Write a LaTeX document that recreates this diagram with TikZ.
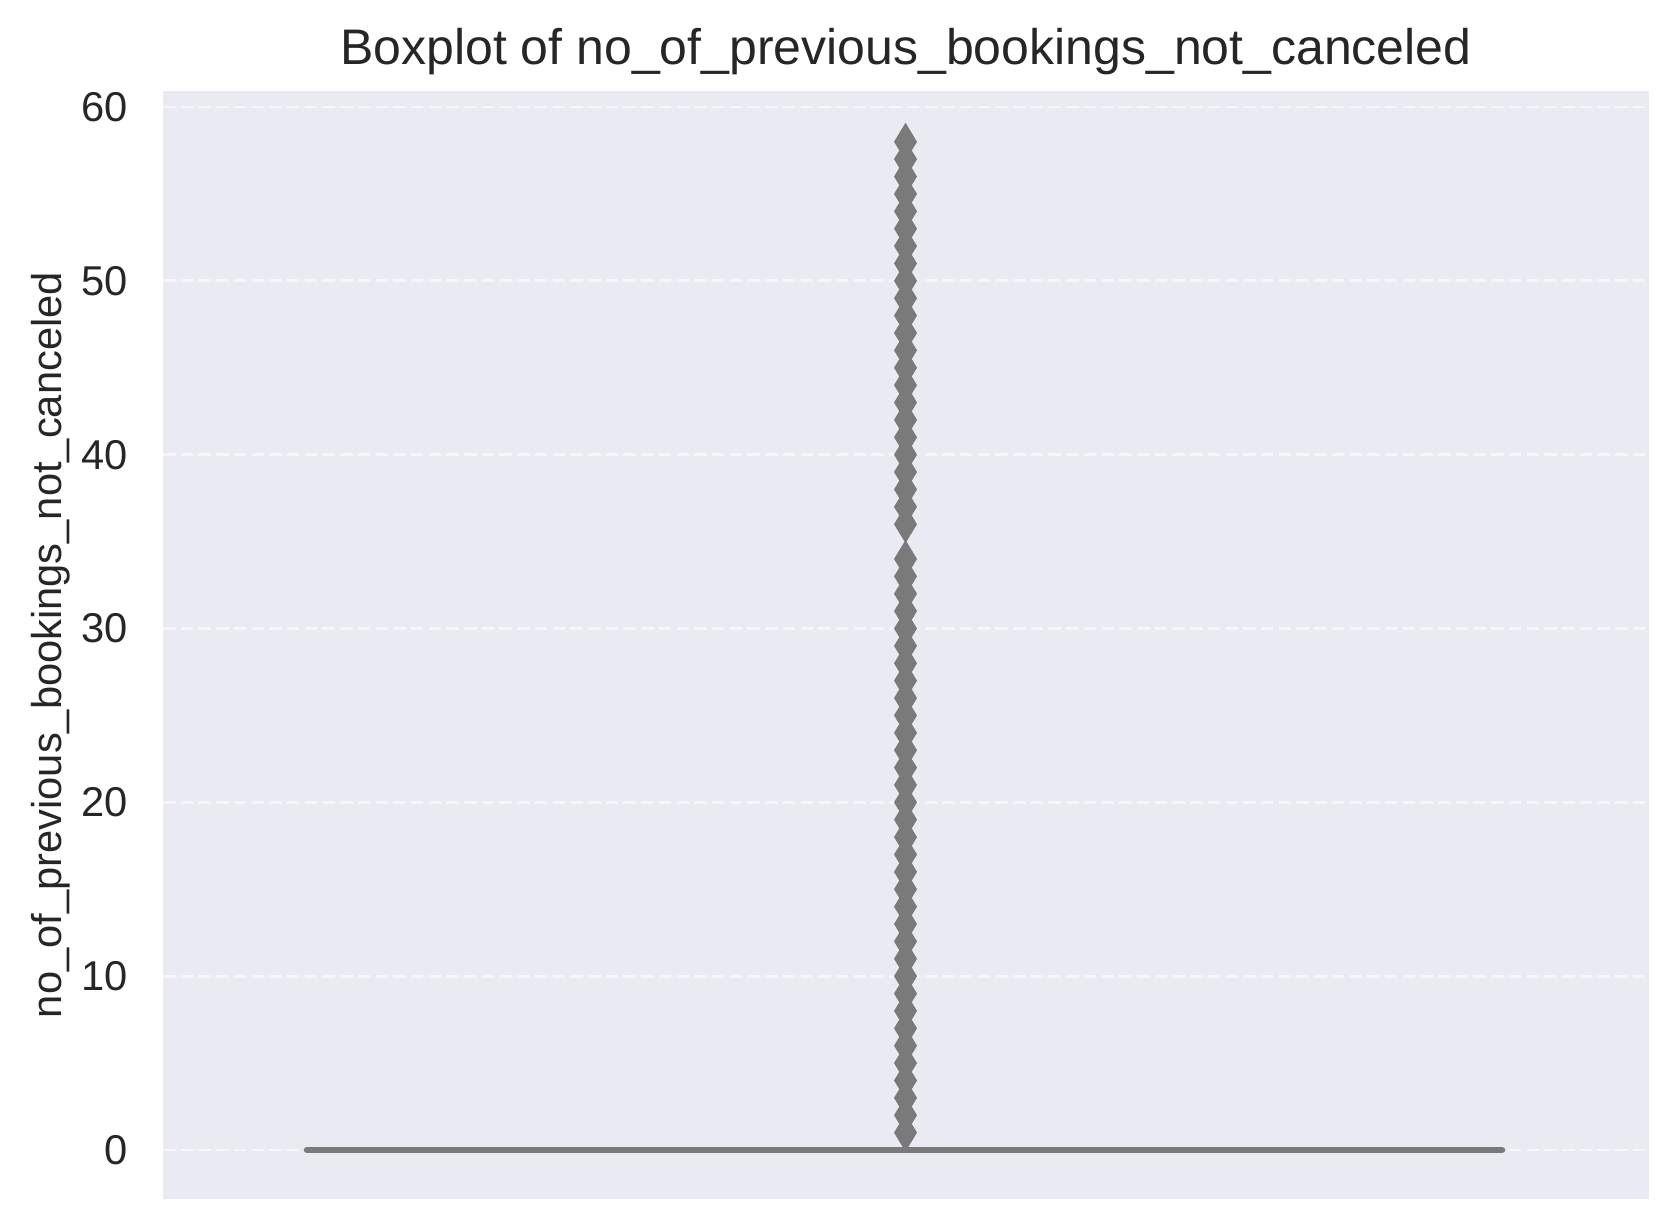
\documentclass[tikz,border=0pt]{standalone}
\usepackage{fontspec}
\setmainfont{Liberation Sans}
\usepackage{tikz}
\definecolor{axbg}{RGB}{234,234,242}
\definecolor{boxgray}{RGB}{122,122,122}
\definecolor{txtgray}{RGB}{38,38,38}
\tikzset{
	gridline/.style={draw=white!55!axbg, line width=0.7pt, dash pattern=on 3bp off 1.25bp},
	ticklabel/.style={anchor=east, inner sep=0pt, text=txtgray, font=\fontsize{10bp}{12bp}\selectfont},
	labeltext/.style={inner sep=0pt, text=txtgray, font=\fontsize{10bp}{12bp}\selectfont},
	titletext/.style={inner sep=0pt, text=txtgray, font=\fontsize{12bp}{14bp}\selectfont},
	flier/.style={fill=boxgray, draw=none}
}

\begin{document}
\begin{tikzpicture}[x=0.24bp, y=0.24bp]
				\useasboundingbox (0,0) rectangle (1678,1230);
				\fill[axbg] (163,31) rectangle (1649,1139);
				% grid and y ticks
				\foreach \v in {0,10,...,60} {
					\draw[gridline] (163,{80+17.383*\v}) -- (1649,{80+17.383*\v});
					\node[ticklabel] (tick\v) at (129,{80+17.383*\v}) {\v};
				}
				% box (all quartiles at 0)
				\draw[boxgray, line width=1.55bp, line cap=round] (307,80) -- (1502,80);
				% outliers
				\foreach \v in {1,...,34,36,37,...,58} {
					\fill[flier] (905.5,{80+17.383*\v+19}) -- ++(11.5,-19) -- ++(-11.5,-19) -- ++(-11.5,19) -- cycle;
				}
				\node[titletext, anchor=base] (title) at (906,1165) {Boxplot of no\_of\_previous\_bookings\_not\_canceled};
				\node[labeltext, anchor=base, rotate=90] (ylabel) at (62,585) {no\_of\_previous\_bookings\_not\_canceled};
			\end{tikzpicture}
\end{document}
